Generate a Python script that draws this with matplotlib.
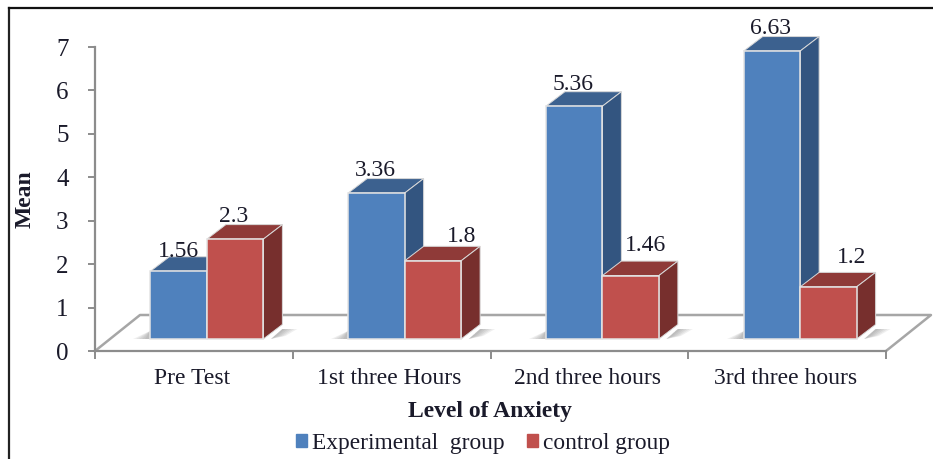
import matplotlib
matplotlib.use('Agg')
import matplotlib.pyplot as plt
from matplotlib.lines import Line2D
from matplotlib.patches import Patch, Polygon

categories = ['Pre Test', '1st three Hours', '2nd three hours', '3rd three hours']
experimental = [1.56, 3.36, 5.36, 6.63]
control = [2.3, 1.8, 1.46, 1.2]
value_labels_exp = ['1.56', '3.36', '5.36', '6.63']
value_labels_ctl = ['2.3', '1.8', '1.46', '1.2']
yticks = [0, 1, 2, 3, 4, 5, 6, 7]

W, H = 933, 459
plt.rcParams['font.family'] = ['Liberation Serif']

BLUE = ('#4F81BD', '#3C618F', '#335580')
RED = ('#C0504D', '#8F3A38', '#772F2D')
GREY = '#8C8C8C'
TXT = '#1a1a2a'

fig = plt.figure(figsize=(W / 100, H / 100), dpi=100)
# axes box in pixels: x 95-886, y 47-351
ax = fig.add_axes([95 / W, 1 - 351 / H, (886 - 95) / W, (351 - 47) / H])
ax.set_xlim(0, 4)
ax.set_ylim(0, 7)

upx = 4 / (886 - 95)   # data units per pixel
upy = 7 / (351 - 47)
dx, dy = 19 * upx, 14.5 * upy
base = 12 * upy
bw = 56.5 * upx
shift = 13 * upx

# floor
fx, fy = 45 * upx, 36 * upy
ax.plot([0, fx, 4 + fx, 4], [0, fy, fy, 0], color='#A6A6A6', lw=1.8, clip_on=False, zorder=1)


def shadow(xs, ys):
    for k in range(len(xs)):
        ax.add_patch(Polygon(list(zip(xs[k], ys)), closed=True, fc='#555555', ec='none',
                             alpha=0.09, clip_on=False, zorder=2))


def bar3d(x0, val, cols, z):
    x1 = x0 + bw
    top = base + val
    ax.bar(x0, val, bw, bottom=base, align='edge', color=cols[0], edgecolor='#E4E4E4',
           linewidth=1.1, zorder=z + 0.2)
    ax.add_patch(Polygon([(x0, top), (x0 + dx, top + dy), (x1 + dx, top + dy), (x1, top)],
                         closed=True, fc=cols[1], ec='#D8D8D8', lw=0.7, clip_on=False, zorder=z))
    ax.add_patch(Polygon([(x1, base), (x1 + dx, base + dy), (x1 + dx, top + dy), (x1, top)],
                         closed=True, fc=cols[2], ec='#D8D8D8', lw=0.7, clip_on=False, zorder=z + 0.1))


# label nudges in pixels from the top of each bar
exp_off = [(0, 20), (-1, 23), (-1, 22), (-1, 23)]
ctl_off = [(-2, 23), (29, 24), (15, 30), (23, 29)]

for i in range(len(categories)):
    c = i + 0.5 + shift
    # floor shadows next to each group
    lx = c - bw
    rx = c + bw
    sy = base + 10 * upy
    for k in range(5):
        shadow([[lx - (5 + 3 * k) * upx, lx, lx]], [base, base, base + 8 * upy])
        shadow([[rx + dx * 0.4, rx + dx, rx + (22 + 3 * k) * upx, rx + (14 + 2 * k) * upx]],
               [base, sy, sy, base + 3 * upy])
    bar3d(c - bw, experimental[i], BLUE, 3 + i)
    bar3d(c, control[i], RED, 3.5 + i)
    ax.annotate(value_labels_exp[i], (c - bw / 2, base + experimental[i]),
                xytext=exp_off[i], textcoords='offset pixels', ha='center', va='center',
                fontsize=17, color=TXT, zorder=20)
    ax.annotate(value_labels_ctl[i], (c + bw / 2, base + control[i]),
                xytext=ctl_off[i], textcoords='offset pixels', ha='center', va='center',
                fontsize=17, color=TXT, zorder=20)

for s in ['top', 'right']:
    ax.spines[s].set_visible(False)
for s in ['left', 'bottom']:
    ax.spines[s].set_color(GREY)
    ax.spines[s].set_linewidth(1.6)

ax.set_yticks(yticks)
ax.set_xticks(range(5))
ax.set_xticklabels([])
ax.tick_params(axis='y', length=5, width=1.4, color=GREY, labelsize=18, labelcolor=TXT, pad=14)
ax.tick_params(axis='x', length=6, width=1.4, color=GREY)
for i, name in enumerate(categories):
    ax.annotate(name, (i + 0.5, 0), xytext=(-2, -28), textcoords='offset pixels', ha='center',
                va='center', fontsize=17, color=TXT)

ax.patch.set_alpha(0)
fig.text(25 / W, 1 - 199 / H, 'Mean', rotation=90, ha='center', va='center',
         fontsize=17, fontweight='bold', color=TXT)
fig.text(490 / W, 1 - 411 / H, 'Level of Anxiety', ha='center', va='center',
         fontsize=17, fontweight='bold', color=TXT)

handles = [Patch(color=BLUE[0], label='Experimental  group'), Patch(color=RED[0], label='control group')]
fig.legend(handles=handles, loc='center', bbox_to_anchor=(483 / W, 1 - 443 / H), ncol=2, frameon=False,
           fontsize=16.8, handlelength=0.47, handleheight=0.47, handletextpad=0.2, columnspacing=1.0,
           labelcolor=TXT, borderpad=0)

# page frame cropped from the source document
fig.add_artist(Line2D([9 / W, 9 / W], [0, 1 - 8 / H], color='#222222', lw=1.6))
fig.add_artist(Line2D([9 / W, 1], [1 - 8 / H, 1 - 8 / H], color='#111111', lw=1.6))

fig.savefig('out.png', dpi=100)
